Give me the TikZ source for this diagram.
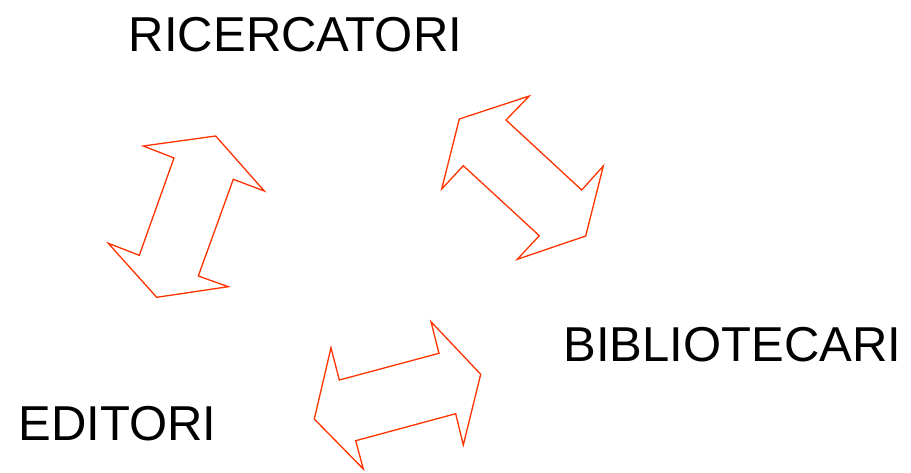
\documentclass[tikz,border=0pt]{standalone}
\usepackage{fontspec}
\setmainfont{Liberation Sans}
\usepackage{tikz}
\tikzset{
  dblarrow/.style={draw=arrowred, line width=1.3pt, line join=miter},
  actor/.style={inner sep=0pt, anchor=base, font=\fontsize{49}{49}\selectfont}
}
\definecolor{arrowred}{RGB}{255,51,0}

\begin{document}
\begin{tikzpicture}[x=1pt,y=-1pt]
                \useasboundingbox (0,0) rectangle (911,472);
                \node[actor] (ricercatori) at (295.5,51) {RICERCATORI};
                \node[actor] (bibliotecari) at (732.5,361.7) {BIBLIOTECARI};
                \node[actor] (editori) at (117.3,440.7) {EDITORI};
                % ricercatori - editori
                \draw[dblarrow] (143.3,146) -- (215.7,136) -- (264.3,191) -- (233.3,179.3)
                -- (198.3,276) -- (228.3,286.7) -- (156.7,297.3) -- (108.3,243.3)
                -- (139.3,255.3) -- (174,158) -- cycle;
                % ricercatori - bibliotecari
                \draw[dblarrow] (459.3,119) -- (529.3,96) -- (506,120) -- (581.7,190)
                -- (603.3,166) -- (585.7,236) -- (517.3,259.3) -- (539.3,235.7)
                -- (463.3,165.7) -- (441.7,189) -- cycle;
                % editori - bibliotecari
                \draw[dblarrow] (331,347.7) -- (339.3,380) -- (439,353.3) -- (431,321.7)
                -- (480.7,374.3) -- (463.3,445) -- (455.7,413.7) -- (355.7,440.7)
                -- (363.3,469) -- (314.3,419) -- cycle;
            \end{tikzpicture}
\end{document}
